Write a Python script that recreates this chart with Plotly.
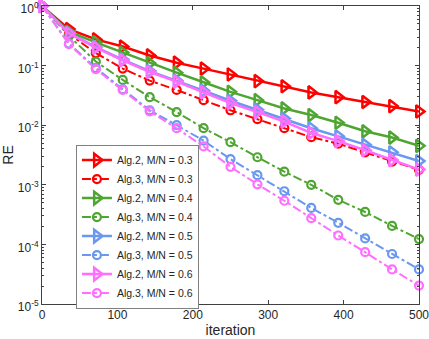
import plotly.graph_objects as go

# iteration values where markers are shown (every ~36 iterations, 0..500)
iteration = [0, 35.7, 71.4, 107.1, 142.9, 178.6, 214.3, 250, 285.7, 321.4, 357.1, 392.9, 428.6, 464.3, 500]

# relative error
alg2_03 = [1, 0.41, 0.275, 0.209, 0.148, 0.112, 0.089, 0.071, 0.055, 0.045, 0.0355, 0.0295, 0.0245, 0.0209, 0.017]
alg3_03 = [1, 0.34, 0.162, 0.089, 0.056, 0.039, 0.0263, 0.0178, 0.0126, 0.0089, 0.0063, 0.0049, 0.0035, 0.00245, 0.00178]
alg2_04 = [1, 0.37, 0.245, 0.166, 0.110, 0.076, 0.0525, 0.0363, 0.0263, 0.0191, 0.0148, 0.011, 0.0079, 0.0062, 0.0045]
alg3_04 = [1, 0.316, 0.117, 0.0575, 0.0295, 0.0166, 0.0089, 0.0052, 0.0029, 0.00166, 0.001, 0.00056, 0.00035, 0.000204, 0.000123]
alg2_05 = [1, 0.355, 0.204, 0.126, 0.081, 0.056, 0.038, 0.0257, 0.0182, 0.0129, 0.0089, 0.0065, 0.0047, 0.0035, 0.0025]
alg3_05 = [1, 0.234, 0.091, 0.04, 0.0178, 0.01, 0.0055, 0.0027, 0.00145, 0.00078, 0.00041, 0.00023, 0.000126, 0.000069, 0.000038]
alg2_06 = [1, 0.347, 0.2, 0.123, 0.078, 0.054, 0.0355, 0.0234, 0.0166, 0.0115, 0.0074, 0.0054, 0.0038, 0.0026, 0.0018]
alg3_06 = [1, 0.229, 0.087, 0.039, 0.017, 0.0089, 0.0044, 0.002, 0.00102, 0.00054, 0.000275, 0.000141, 0.000074, 0.000038, 0.0000204]

ratios = ["0.3", "0.4", "0.5", "0.6"]
colors = ["#FF0000", "#4FA532", "#6A98EE", "#FF6EFF"]
alg2 = [alg2_03, alg2_04, alg2_05, alg2_06]
alg3 = [alg3_03, alg3_04, alg3_05, alg3_06]

# y tick labels
y_tickvals = [1e-5, 1e-4, 1e-3, 1e-2, 1e-1, 1]
y_ticktext = ["10<sup>-5</sup>", "10<sup>-4</sup>", "10<sup>-3</sup>", "10<sup>-2</sup>", "10<sup>-1</sup>", "10<sup>0</sup>"]

fig = go.Figure()
for r, c, y2, y3 in zip(ratios, colors, alg2, alg3):
    fig.add_trace(go.Scatter(x=iteration, y=y2, mode="lines+markers", name=f"Alg.2, M/N = {r}",
                             line=dict(color=c, width=2.5),
                             marker=dict(symbol="triangle-right-open", size=11, line=dict(color=c, width=2.5)),
                             cliponaxis=False))
    fig.add_trace(go.Scatter(x=iteration, y=y3, mode="lines+markers", name=f"Alg.3, M/N = {r}",
                             line=dict(color=c, width=2, dash="dashdot"),
                             marker=dict(symbol="circle-open", size=8, line=dict(color=c, width=2.2)),
                             cliponaxis=False))

axis_style = dict(showline=True, linecolor="#404040", linewidth=1, mirror="allticks",
                  ticks="inside", ticklen=4, tickcolor="#404040", showgrid=False, zeroline=False,
                  automargin=False, ticklabeloverflow="allow",
                  tickfont=dict(size=12, color="#262626"))

fig.update_layout(
    width=429, height=339,
    margin=dict(l=42, r=10, t=6, b=35),
    paper_bgcolor="white", plot_bgcolor="white",
    font=dict(family="Liberation Sans, Arial, sans-serif", size=12, color="#262626"),
    legend=dict(x=0.09, y=0.535, xanchor="left", yanchor="top",
                bgcolor="white", bordercolor="#808080", borderwidth=1,
                font=dict(size=10.5), tracegroupgap=0),
)
fig.update_xaxes(range=[0, 500], dtick=100, title=dict(text="iteration", standoff=3), **axis_style)
fig.update_yaxes(type="log", range=[-5, 0], tickvals=y_tickvals, ticktext=y_ticktext,
                 ticklabelshift=3,
                 title=dict(text="RE", standoff=2),
                 minor=dict(ticks="inside", ticklen=2, tickcolor="#404040", dtick="D1"),
                 **axis_style)

# drop the browser's default page margin so the figure sits at the window corner
fig.write_html("out.html", config={"displayModeBar": False},
               post_script="document.body.style.margin = '0';")
